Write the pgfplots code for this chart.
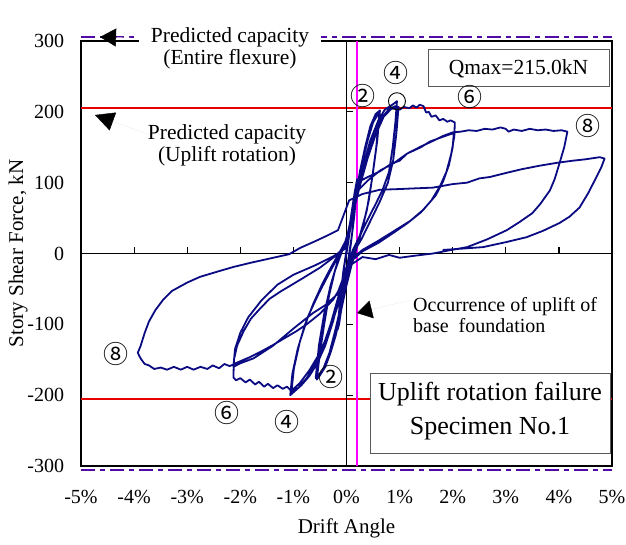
\documentclass[border=0pt]{standalone}
\usepackage{pgfplots}
\pgfplotsset{compat=1.18}
\usepackage{fontspec}
\setmainfont{Liberation Serif}
\newfontfamily\circfont{Noto Sans CJK JP}
\usetikzlibrary{arrows.meta}
\definecolor{navyline}{RGB}{10,10,130}
\definecolor{dashpurple}{RGB}{80,10,165}
\definecolor{capred}{RGB}{230,0,0}
\definecolor{upmag}{RGB}{255,0,255}
\begin{document}
\fontsize{20}{23}\selectfont
\begin{tikzpicture}
\useasboundingbox (-81pt,-78pt) rectangle (545pt,466pt);
\begin{axis}[
  at={(0pt,0pt)}, anchor=south west,
  scale only axis, width=531pt, height=425pt,
  xmin=-5, xmax=5, ymin=-300, ymax=300,
  axis line style={line width=1.5pt},
  xtick={-5,-4,-3,-2,-1,0,1,2,3,4,5},
  ytick={-300,-200,-100,0,100,200,300},
  xticklabels={-5\%,-4\%,-3\%,-2\%,-1\%,0\%,1\%,2\%,3\%,4\%,5\%},
  yticklabels={-300,-200,-100,0,100,200,300},
  major tick length=0pt,
  tick label style={font=\fontsize{20}{23}\selectfont},
  xticklabel style={yshift=-17pt},
  yticklabel style={xshift=-10pt},
  xlabel={Drift Angle}, ylabel={Story Shear Force, kN},
  label style={font=\fontsize{21}{24}\selectfont},
  xlabel style={at={(axis description cs:0.5,0)},anchor=center,yshift=-62pt},
  ylabel style={at={(axis description cs:0,0.5)},anchor=center,yshift=63pt},
  clip=false,
]
% reference lines
\addplot[capred, line width=1.6pt] coordinates {(-5,205) (5,205)};
\addplot[capred, line width=1.6pt] coordinates {(-5,-205) (5,-205)};
\addplot[dashpurple, line width=2pt, dash pattern=on 14pt off 5pt on 5pt off 5pt] coordinates {(-5,305) (5,305)};
\addplot[dashpurple, line width=2pt, dash pattern=on 14pt off 5pt on 5pt off 5pt] coordinates {(-5,-306) (5,-306)};
\addplot[upmag, line width=1.5pt] coordinates {(0.2,-300) (0.2,300)};
% zero lines and ticks
\addplot[black, line width=1.4pt] coordinates {(-5,0) (5,0)};
\addplot[black, line width=1.4pt] coordinates {(0,-300) (0,300)};
\pgfplotsinvokeforeach{-4,-3,-2,-1,1,2,3,4}{\draw[line width=1.2pt] (axis cs:#1,0) -- ++(0pt,7pt);}
\pgfplotsinvokeforeach{-200,-100,100,200}{\draw[line width=1.2pt] (axis cs:0,#1) -- ++(6pt,0pt);}
% hysteresis
\addplot[navyline, line width=1.8pt, line join=round] coordinates {
(0,0)(0.05,25)(0.1,55)(0.15,85)(0.2,105)
(0.16,65)(0.1,25)(0.04,-5)
(-0.02,-35)(-0.08,-70)(-0.14,-100)(-0.17,-108)
(-0.12,-65)(-0.06,-25)(0,5)
(0.06,40)(0.13,75)(0.2,102)
(0.15,55)(0.08,12)(0.0,-30)
(-0.08,-70)(-0.15,-100)
(-0.1,-55)(-0.03,-12)
(0.05,25)(0.15,70)(0.25,115)(0.35,150)(0.45,180)(0.55,197)(0.63,202)
(0.58,160)(0.5,115)(0.42,75)(0.3,35)(0.2,10)(0.1,-15)
(0.0,-45)(-0.1,-80)(-0.2,-115)(-0.3,-140)(-0.4,-160)(-0.5,-172)(-0.56,-178)
(-0.5,-140)(-0.42,-100)(-0.33,-60)(-0.22,-25)(-0.1,0)(0.0,20)
(0.1,55)(0.2,95)(0.3,130)(0.4,160)(0.5,185)(0.62,200)
(0.56,150)(0.48,105)(0.38,60)(0.25,25)(0.12,0)(0.02,-25)
(-0.08,-65)(-0.2,-105)(-0.32,-140)(-0.45,-165)(-0.58,-176)
(-0.52,-130)(-0.42,-85)(-0.3,-45)(-0.17,-12)(-0.05,10)
(0.05,35)(0.15,75)(0.3,120)(0.45,160)(0.6,188)(0.72,203)(0.82,208)(0.9,212)(0.95,215)
(0.92,185)(0.87,150)(0.8,115)(0.68,90)(0.55,70)(0.4,48)(0.25,25)(0.12,5)(0.05,-10)
(-0.1,-50)(-0.25,-95)(-0.4,-130)(-0.55,-155)(-0.7,-173)(-0.85,-186)(-0.97,-194)(-1.06,-200)
(-1.02,-170)(-0.92,-135)(-0.78,-100)(-0.62,-70)(-0.45,-42)(-0.28,-18)(-0.12,3)(0.0,20)
(0.1,50)(0.25,95)(0.4,135)(0.55,168)(0.7,193)(0.84,204)(0.98,207)
(0.94,170)(0.88,132)(0.78,100)(0.62,72)(0.45,46)(0.28,20)(0.12,0)(0.0,-20)
(-0.15,-60)(-0.3,-100)(-0.45,-133)(-0.6,-158)(-0.75,-176)(-0.9,-189)(-1.04,-197)
(-0.99,-162)(-0.88,-125)(-0.72,-88)(-0.52,-56)(-0.32,-27)(-0.14,-2)(0,15)
(0.08,45)(0.2,85)(0.35,130)(0.5,165)(0.65,190)(0.8,204)(0.92,208)(1.0,203)(1.08,207)(1.18,205)(1.25,209)(1.32,206)(1.38,210)(1.45,208)(1.5,199)(1.55,200)(1.6,193)(1.68,195)(1.75,188)(1.82,190)(1.9,186)(1.96,188)(2.04,185)
(2.03,165)(1.97,140)(1.88,115)(1.76,95)(1.6,75)(1.4,58)(1.15,43)(0.9,30)(0.6,15)(0.3,3)(0.1,-10)
(0.0,-30)(-0.15,-70)(-0.3,-105)(-0.5,-140)(-0.7,-165)(-0.88,-183)(-1.04,-194)(-1.12,-188)(-1.2,-191)(-1.3,-186)(-1.38,-190)(-1.48,-184)(-1.55,-188)(-1.65,-181)(-1.72,-185)(-1.82,-178)(-1.9,-182)(-2.0,-176)(-2.08,-179)(-2.13,-175)
(-2.12,-150)(-2.06,-130)(-1.94,-110)(-1.8,-92)(-1.63,-78)(-1.45,-64)(-1.25,-54)(-0.87,-37)(-0.5,-20)(-0.2,-3)(0,12)
(0.07,45)(0.14,72)(0.2,88)(0.4,103)(0.63,117)(0.9,128)(1.14,141)(1.4,150)(1.57,158)(1.75,163)(1.9,167)(2.02,170)
(2.0,150)(1.93,125)(1.82,102)(1.68,82)(1.45,62)(1.2,46)(0.9,32)(0.6,18)(0.3,5)(0.1,-8)
(-0.05,-32)(-0.18,-58)(-0.4,-73)(-0.63,-84)(-1.0,-106)(-1.38,-130)(-1.75,-148)(-2.0,-155)(-2.13,-160)
(-2.1,-135)(-2.0,-112)(-1.85,-90)(-1.6,-66)(-1.3,-44)(-1.0,-30)(-0.6,-17)(-0.25,-4)(0,8)
(0.06,40)(0.13,75)(0.2,100)(0.4,108)(0.63,116)(0.85,127)(1.0,131)(1.14,141)(1.4,151)(1.63,159)(1.82,166)(2.0,171)(2.15,172)(2.3,174)(2.45,173)(2.6,176)(2.75,175)(2.9,178)(3.0,176)(3.05,172)(3.15,175)(3.3,173)(3.45,176)(3.6,174)(3.75,175)(3.9,173)(4.05,174)(4.16,172)
(4.1,150)(4.01,127)(3.92,105)(3.83,89)(3.65,70)(3.5,57)(3.25,44)(3.02,33)(2.65,20)(2.27,9)(1.9,4)(1.63,0)(1.3,-3)(1.0,-6)(0.8,-2)(0.55,-8)(0.3,-5)(0.1,-15)
(-0.05,-40)(-0.25,-65)(-0.5,-85)(-0.75,-100)(-0.95,-110)(-1.2,-121)(-1.38,-129)(-1.6,-138)(-1.81,-146)(-2.06,-154)(-2.2,-159)(-2.3,-156)(-2.4,-162)(-2.52,-158)(-2.62,-163)(-2.75,-160)(-2.88,-164)(-3.0,-160)(-3.12,-164)(-3.25,-160)(-3.38,-164)(-3.5,-161)(-3.62,-163)(-3.72,-158)(-3.8,-156)(-3.86,-150)(-3.9,-145)(-3.93,-140)
(-3.88,-131)(-3.8,-112)(-3.72,-96)(-3.6,-80)(-3.45,-65)(-3.29,-53)(-3.0,-41)(-2.76,-33)(-2.45,-26)(-2.13,-19)(-1.8,-13)(-1.5,-8)(-1.2,-3)(-1.08,-1)
(-0.87,8)(-0.6,17)(-0.4,24)(-0.16,33)(-0.05,55)(0.05,75)(0.3,84)(0.63,90)(1.0,91)(1.3,92)(1.63,93)(2.0,98)(2.27,100)(2.5,106)(2.7,108)(3.02,114)(3.3,119)(3.64,124)(3.96,128)(4.26,131)(4.5,133)(4.77,136)(4.86,134)
(4.8,122)(4.7,107)(4.55,85)(4.39,65)(4.2,52)(4.01,43)(3.7,32)(3.39,23)(3.0,16)(2.57,9)(2.2,7)(1.81,5)
};
% Qmax marker
\addplot[only marks, mark=o, mark size=8.5pt, black, line width=0.9pt] coordinates {(0.95,215)};
\end{axis}
% annotations (1pt = 1px of the reference)
\node[fill=white, inner xsep=12pt, inner ysep=1pt, align=center, font=\fontsize{21.5}{22}\selectfont] at (149pt,418pt) {Predicted capacity\\(Entire flexure)};
\node[align=center, font=\fontsize{21.5}{22}\selectfont] at (146pt,321pt) {Predicted capacity\\(Uplift rotation)};
\node[align=left, anchor=west, inner sep=0pt, font=\fontsize{20}{21}\selectfont] at (332pt,151pt) {Occurrence of uplift of\\base\ \ foundation};
\draw[draw=black!65, line width=1pt, fill=white] (347pt,379pt) rectangle (528pt,416pt);
\node[font=\fontsize{21.5}{22}\selectfont] at (437.5pt,397.5pt) {Qmax=215.0kN};
\draw[draw=black!65, line width=1pt, fill=white] (289pt,13pt) rectangle (529pt,93pt);
\node[align=center, font=\fontsize{26}{34}\selectfont] at (409pt,55pt) {Uplift rotation failure\\Specimen No.1};
% arrows
\draw[black!7, line width=0.4pt, -{Triangle[length=16pt,width=18pt,black]}] (50pt,428pt) -- (19pt,429pt);
\draw[black!7, line width=0.4pt, -{Triangle[length=19pt,width=19pt,black]}] (69pt,331pt) -- (14pt,351pt);
\draw[black!7, line width=0.4pt, -{Triangle[length=15pt,width=18pt,black]}] (330pt,166pt) -- (276pt,153pt);
% circled cycle numbers
\begin{scope}[every node/.style={font=\circfont\fontsize{25}{25}\selectfont, inner sep=0pt}]
\node at (282pt,370pt) {②};
\node at (315pt,393pt) {④};
\node at (389pt,369pt) {⑥};
\node at (507pt,340pt) {⑧};
\node at (35pt,112pt) {⑧};
\node at (146pt,53pt) {⑥};
\node at (206pt,44pt) {④};
\node at (250pt,89pt) {②};
\end{scope}
\end{tikzpicture}
\end{document}
